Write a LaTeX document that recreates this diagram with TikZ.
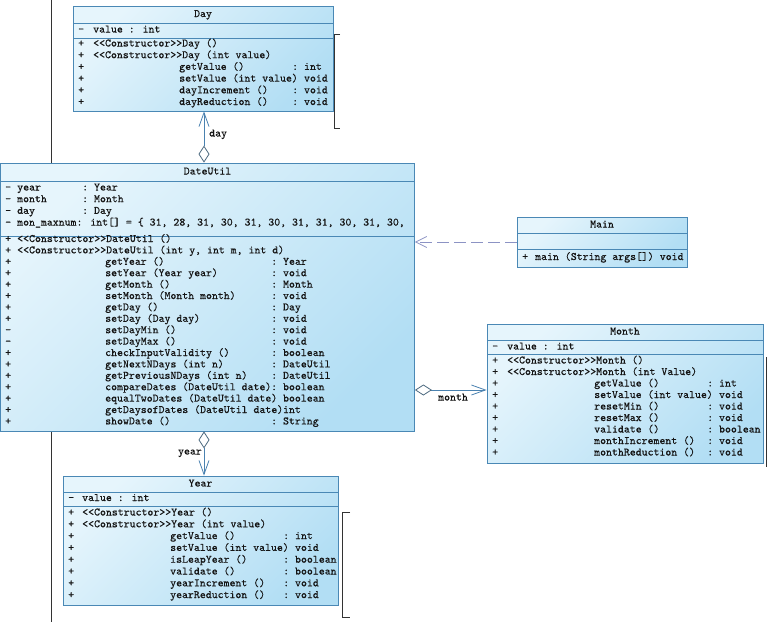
\documentclass[tikz,border=0pt]{standalone}
\usepackage{fontspec}
\newfontfamily\umlfont{lmmono10-regular.otf}[FakeBold=0.35]
\usetikzlibrary{arrows.meta}
\definecolor{bd}{HTML}{4A88B5}
\definecolor{fl}{HTML}{E6F5FC}
\definecolor{fd}{HTML}{B2DEF4}
\definecolor{ln}{HTML}{4A82B0}
\definecolor{dia}{HTML}{4D6A80}
\definecolor{dsh}{HTML}{8C93C4}
\definecolor{tx}{HTML}{141414}
\definecolor{bk}{HTML}{333333}
\newcounter{tn}
\newcommand\umltxt[2]{\stepcounter{tn}\node[txt] (t\arabic{tn}) at (#1) {#2};}
\newcommand\umlm[4]{\umltxt{\colV,#1}{#2}\umltxt{\colM,#1}{#3}\umltxt{\colT,#1}{#4}}
\newcommand\umlc[2]{\umltxt{\colV,#1}{+}\umltxt{\colC,#1}{#2}}
\begin{document}
\begin{tikzpicture}[x=1pt,y=-1pt,
  txt/.style={anchor=west,inner sep=0pt,text=tx,font=\umlfont\fontsize{11.3}{13}\selectfont,text height=7pt,text depth=2pt},
  ttl/.style={txt,anchor=center},
  box/.style={rectangle,draw=bd,line width=0.8pt,top color=fl,bottom color=fd,shading angle=45,inner sep=0pt},
  sep/.style={draw=bd,line width=0.8pt},
  assoc/.style={draw=ln,line width=0.8pt,{Diamond[length=17pt,width=11pt,fill=white,color=dia]}-{Straight Barb[length=14pt,width=10pt]}},
  dep/.style={draw=dsh,line width=0.8pt,dash pattern=on 12pt off 5pt,-{Straight Barb[length=11pt,width=11pt]}},
  bg/.style={draw=bk,line width=0.8pt}]
\fill[white] (0,0) rectangle (767,622);
\useasboundingbox (0,0) rectangle (767,622);
% background lines and brackets
\draw[bg] (51,0) -- (51,622);
\draw[bg] (340,34) -- (334,34) -- (334,128) -- (340,128);
\draw[bg] (770,357) -- (766,357) -- (766,466) -- (770,466);
\draw[bg] (350,512) -- (342,512) -- (342,617) -- (350,617);
% ---------------- Day
\node[box,minimum width=260pt,minimum height=105pt] (day) at (203,58.5) {};
\draw[sep] (73,23) -- (333,23);
\draw[sep] (73,38) -- (333,38);
\node[ttl] (dayT) at (203,14.5) {Day};
\def\colV{78}\def\colC{93}\def\colM{179}\def\colT{292}
\umltxt{\colV,30}{-}\umltxt{\colC,30}{value : int}
\umlc{44}{<<Constructor>>Day ()}
\umlc{55.7}{<<Constructor>>Day (int value)}
\umlm{67.4}{+}{getValue ()}{:~int}
\umlm{79.1}{+}{setValue (int value)}{\phantom{:}~void}
\umlm{90.8}{+}{dayIncrement ()}{:~void}
\umlm{102.5}{+}{dayReduction ()}{:~void}
% ---------------- DateUtil
\node[box,minimum width=414pt,minimum height=268pt] (du) at (207.5,297) {};
\draw[sep] (0.5,181) -- (414.5,181);
\draw[sep] (0.5,236) -- (414.5,236);
\node[ttl] (duT) at (207.5,172) {DateUtil};
\def\colV{5}\def\colC{17}\def\colM{105}\def\colT{271}
\umltxt{\colV,188}{-}\umltxt{17,188}{year}\umltxt{82,188}{:~Year}
\umltxt{\colV,199.7}{-}\umltxt{17,199.7}{month}\umltxt{82,199.7}{:~Month}
\umltxt{\colV,211.4}{-}\umltxt{17,211.4}{day}\umltxt{82,211.4}{:~Day}
\umltxt{\colV,223.1}{-}\umltxt{17,223.1}{mon\_maxnum: int[] = \{ 31, 28, 31, 30, 31, 30, 31, 31, 30, 31, 30,}
\umlc{239.5}{<<Constructor>>DateUtil ()}
\umlc{250.9}{<<Constructor>>DateUtil (int y, int m, int d)}
\umlm{262.3}{+}{getYear ()}{:~Year}
\umlm{273.7}{+}{setYear (Year year)}{:~void}
\umlm{285.1}{+}{getMonth ()}{:~Month}
\umlm{296.5}{+}{setMonth (Month month)}{:~void}
\umlm{307.9}{+}{getDay ()}{:~Day}
\umlm{319.3}{+}{setDay (Day day)}{:~void}
\umlm{330.7}{-}{setDayMin ()}{:~void}
\umlm{342.1}{-}{setDayMax ()}{:~void}
\umlm{353.5}{+}{checkInputValidity ()}{:~boolean}
\umlm{364.9}{+}{getNextNDays (int n)}{:~DateUtil}
\umlm{376.3}{+}{getPreviousNDays (int n)}{:~DateUtil}
\umlm{387.7}{+}{compareDates (DateUtil date)}{:~boolean}
\umlm{399.1}{+}{equalTwoDates (DateUtil date)}{\phantom{:}~boolean}
\umlm{410.5}{+}{getDaysofDates (DateUtil date)}{\phantom{::}int}
\umlm{421.9}{+}{showDate ()}{:~String}
% ---------------- Main
\node[box,minimum width=170pt,minimum height=50pt] (ma) at (602,242) {};
\draw[sep] (517,233) -- (687,233);
\draw[sep] (517,249) -- (687,249);
\node[ttl] (maT) at (602,225) {Main};
\umltxt{522,257.5}{+}\umltxt{535,257.5}{main (String args[]) void}
% ---------------- Month
\node[box,minimum width=276pt,minimum height=139pt] (mo) at (625,393.5) {};
\draw[sep] (487,340) -- (763,340);
\draw[sep] (487,354) -- (763,354);
\node[ttl] (moT) at (625,332) {Month};
\def\colV{492}\def\colC{507}\def\colM{594}\def\colT{707}
\umltxt{\colV,347}{-}\umltxt{\colC,347}{value : int}
\umlc{361}{<<Constructor>>Month ()}
\umlc{372.5}{<<Constructor>>Month (int Value)}
\umlm{384}{+}{getValue ()}{:~int}
\umlm{395.5}{+}{setValue (int value)}{\phantom{:}~void}
\umlm{407}{+}{resetMin ()}{:~void}
\umlm{418.5}{+}{resetMax ()}{:~void}
\umlm{430}{+}{validate ()}{:~boolean}
\umlm{441.5}{+}{monthIncrement ()}{:~void}
\umlm{453}{+}{monthReduction ()}{:~void}
% ---------------- Year
\node[box,minimum width=275pt,minimum height=129pt] (yr) at (200.5,540.5) {};
\draw[sep] (63,492) -- (338,492);
\draw[sep] (63,506) -- (338,506);
\node[ttl] (yrT) at (200.5,484) {Year};
\def\colV{68}\def\colC{82}\def\colM{170}\def\colT{283}
\umltxt{\colV,498.5}{-}\umltxt{\colC,498.5}{value : int}
\umlc{513}{<<Constructor>>Year ()}
\umlc{524.8}{<<Constructor>>Year (int value)}
\umlm{536.6}{+}{getValue ()}{:~int}
\umlm{548.4}{+}{setValue (int value)}{\phantom{:}~void}
\umlm{560.2}{+}{isLeapYear ()}{:~boolean}
\umlm{572}{+}{validate ()}{:~boolean}
\umlm{583.8}{+}{yearIncrement ()}{:~void}
\umlm{595.6}{+}{yearReduction ()}{:~void}
% ---------------- connectors
\coordinate (cx) at (204,0);
\coordinate (my) at (0,390);
\draw[assoc] (du.north -| cx) -- (day.south -| cx);
\node[txt] (lday) at (209,134) {day};
\draw[assoc] (du.south -| cx) -- (yr.north -| cx);
\node[txt,anchor=east] (lyear) at (202,452) {year};
\draw[assoc] (du.east |- my) -- (mo.west |- my);
\node[txt] (lmonth) at (438,398) {month};
\draw[dep] (ma.west) -- (ma.west -| du.east);
\end{tikzpicture}
\end{document}
